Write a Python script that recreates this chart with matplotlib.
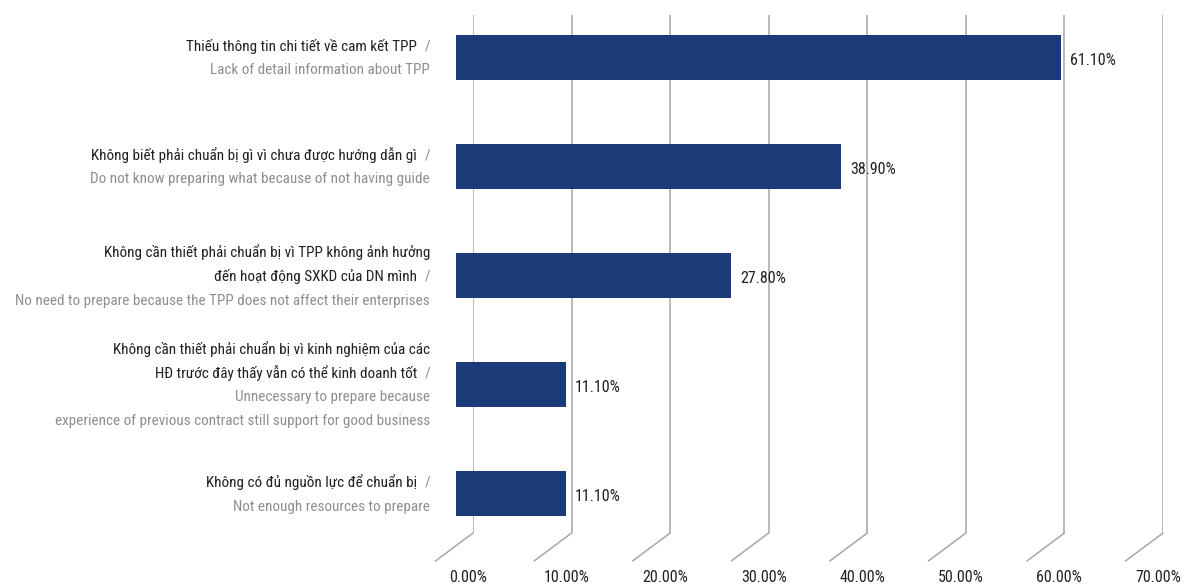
import matplotlib
matplotlib.use("Agg")
import matplotlib.pyplot as plt
import matplotlib.transforms as mtransforms

plt.rcParams['font.family'] = ['Roboto Condensed', 'Roboto', 'DejaVu Sans']

# Du lieu
values = [61.1, 38.9, 27.8, 11.1, 11.1]
labels_vi = [
    ["Thiếu thông tin chi tiết về cam kết TPP"],
    ["Không biết phải chuẩn bị gì vì chưa được hướng dẫn gì"],
    ["Không cần thiết phải chuẩn bị vì TPP không ảnh hưởng",
     "đến hoạt động SXKD của DN mình"],
    ["Không cần thiết phải chuẩn bị vì kinh nghiệm của các",
     "HĐ trước đây thấy vẫn có thể kinh doanh tốt"],
    ["Không có đủ nguồn lực để chuẩn bị"],
]
labels_en = [
    ["Lack of detail information about TPP"],
    ["Do not know preparing what because of not having guide"],
    ["No need to prepare because the TPP does not affect their enterprises"],
    ["Unnecessary to prepare because",
     "experience of previous contract still support for good business"],
    ["Not enough resources to prepare"],
]
ticks = [0, 10, 20, 30, 40, 50, 60, 70]
tick_labels = ["0.00%", "10.00%", "20.00%", "30.00%", "40.00%", "50.00%", "60.00%", "70.00%"]

W, H = 1190, 585
BAR = "#1b3b78"
DARK = "#231f20"
GRAY = "#8e8e90"
GRID = "#a6a6a6"
PT = 72 / 100  # px -> points
FS = 11.5
FS_LAB = 10.9

fig = plt.figure(figsize=(W / 100, H / 100), dpi=100)

# zadnji zid sa linijama mreze (3D izgled)
ax_g = fig.add_axes([473 / W, 1 - 533 / H, (1163 - 473) / W, (533 - 15) / H])
ax_g.set_xlim(0, 70)
ax_g.set_ylim(0, 1)
ax_g.axis("off")
for t, lab in zip(ticks, tick_labels):
    ax_g.plot([t, t], [0, 1], color=GRID, lw=1.1)
    ax_g.annotate("", xy=(t, 0), xytext=(-37.5 * PT, -28 * PT), textcoords="offset points",
                  arrowprops=dict(arrowstyle="-", color=GRID, lw=1.1, shrinkA=0, shrinkB=0))
    ax_g.annotate(lab, xy=(t, 0), xytext=(-5 * PT, -44 * PT), textcoords="offset points",
                  ha="center", va="center", fontsize=FS, color=DARK)

# prednji grafikon sa stubicima
ax = fig.add_axes([456 / W, 1 - 548 / H, 693 / W, 545 / H])
ax.set_xlim(0, 70)
ax.set_ylim(len(values) - 0.5, -0.5)
ax.axis("off")
ypos = list(range(len(values)))
ax.barh(ypos, values, height=0.41, color=BAR)
for y, v in zip(ypos, values):
    ax.annotate(f"{v:.2f}%", xy=(v, y), xytext=(9 * PT, -3 * PT), textcoords="offset points",
                ha="left", va="center", fontsize=FS, color=DARK)

# oznake kategorija
tr = mtransforms.blended_transform_factory(fig.transFigure, ax.transData)
xr = 430 / W
for y, vi, en in zip(ypos, labels_vi, labels_en):
    n = len(vi) + len(en)
    lines = [(s, DARK) for s in vi] + [(s, GRAY) for s in en]
    for k, (s, c) in enumerate(lines):
        dy = -((k - (n - 1) / 2) * 24 + 1) * PT
        if k == len(vi) - 1:
            ax.annotate(s, xy=(xr, y), xycoords=tr, xytext=(-13 * PT, dy), textcoords="offset points",
                        ha="right", va="center", fontsize=FS_LAB, color=c)
            ax.annotate("/", xy=(xr, y), xycoords=tr, xytext=(0, dy), textcoords="offset points",
                        ha="right", va="center", fontsize=FS_LAB, color=GRAY)
        else:
            ax.annotate(s, xy=(xr, y), xycoords=tr, xytext=(0, dy), textcoords="offset points",
                        ha="right", va="center", fontsize=FS_LAB, color=c)

fig.savefig("out.png", dpi=100)
